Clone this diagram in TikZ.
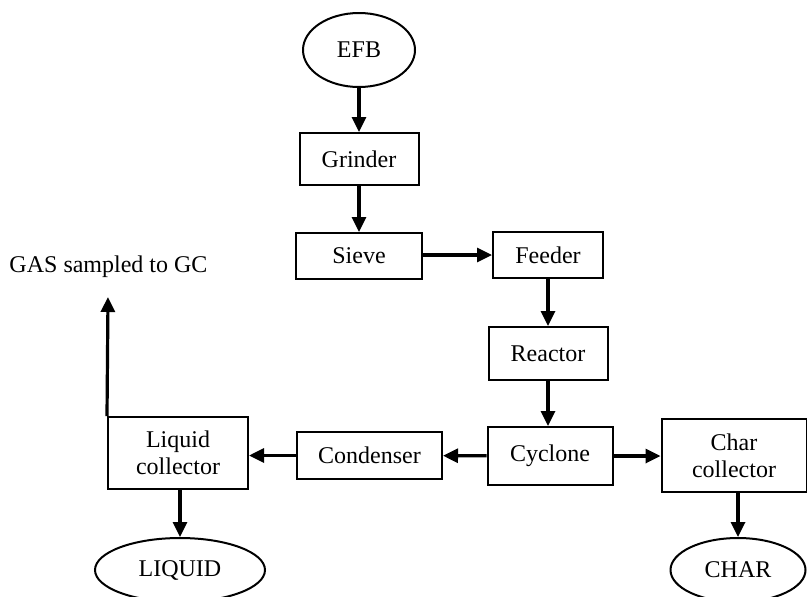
\documentclass[tikz,border=0pt]{standalone}
\usepackage{fontspec}
\setmainfont{Liberation Serif}
\usetikzlibrary{arrows.meta,shapes.geometric}

\begin{document}
\begin{tikzpicture}[x=0.5pt,y=-0.5pt,
  unit/.style={draw,line width=1pt,inner sep=0pt,align=center,font=\fontsize{12}{13.5}\selectfont},
  ends/.style={draw,ellipse,line width=1pt,inner sep=0pt,font=\fontsize{12}{13.5}\selectfont},
  flow/.style={->,line width=1.6pt},
  >={Triangle[length=7.5pt,width=7pt]}]
\useasboundingbox (0,0) rectangle (807,596);
%Nodes
\node[ends, minimum width=56pt, minimum height=37pt] (nodeefb) at (359,50) {EFB};

\node[unit, minimum width=59.5pt, minimum height=26pt] (nodegrinder) at (359,159) {Grinder};

\node[unit, minimum width=63pt, minimum height=23pt] (nodesieve) at (359,256) {Sieve};
\node[unit, minimum width=55pt, minimum height=23pt] (nodefeeder) at (548,255) {Feeder};

\node[unit, minimum width=59.5pt, minimum height=26.5pt] (nodereactor) at (548,353.5) {Reactor};

\node[unit, minimum width=70pt, minimum height=36pt] (nodeliquidcoll) at (178,453) {Liquid\\collector};
\node[unit, minimum width=72.5pt, minimum height=23.5pt] (nodecondenser) at (369.5,455.5) {Condenser};
\node[unit, minimum width=62.5pt, minimum height=29pt] (nodecyclone) at (550,456) {Cyclone};
\node[unit, minimum width=72.5pt, minimum height=36.5pt] (nodecharcoll) at (734,455.5) {Char\\collector};

\node[ends, minimum width=85pt, minimum height=32pt] (nodeliquid) at (180,570) {LIQUID};
\node[ends, minimum width=67.5pt, minimum height=32pt] (nodechar) at (738,570) {CHAR};

\node[font=\fontsize{12}{13.5}\selectfont] (nodegas) at (108.5,267) {GAS sampled to GC};
\coordinate (gasend) at (108,297);

%Lines
\draw[flow] (nodeefb) -- (nodegrinder);
\draw[flow] (nodegrinder) -- (nodesieve);
\draw[flow] (nodesieve.east |- nodefeeder) -- (nodefeeder);
\draw[flow] (nodefeeder) -- (nodereactor);
\draw[flow] (nodereactor) -- (nodereactor |- nodecyclone.north);

\draw[flow] (nodecyclone) -- (nodecondenser);
\draw[flow] (nodecyclone) -- (nodecharcoll.west |- nodecyclone);
\draw[flow] (nodecondenser) -- (nodeliquidcoll.east |- nodecondenser);

\draw[flow] (nodeliquidcoll.north west) -- (gasend);
\draw[flow] (nodeliquidcoll.south -| nodeliquid) -- (nodeliquid);
\draw[flow] (nodecharcoll.south -| nodechar) -- (nodechar);
\end{tikzpicture}
\end{document}
